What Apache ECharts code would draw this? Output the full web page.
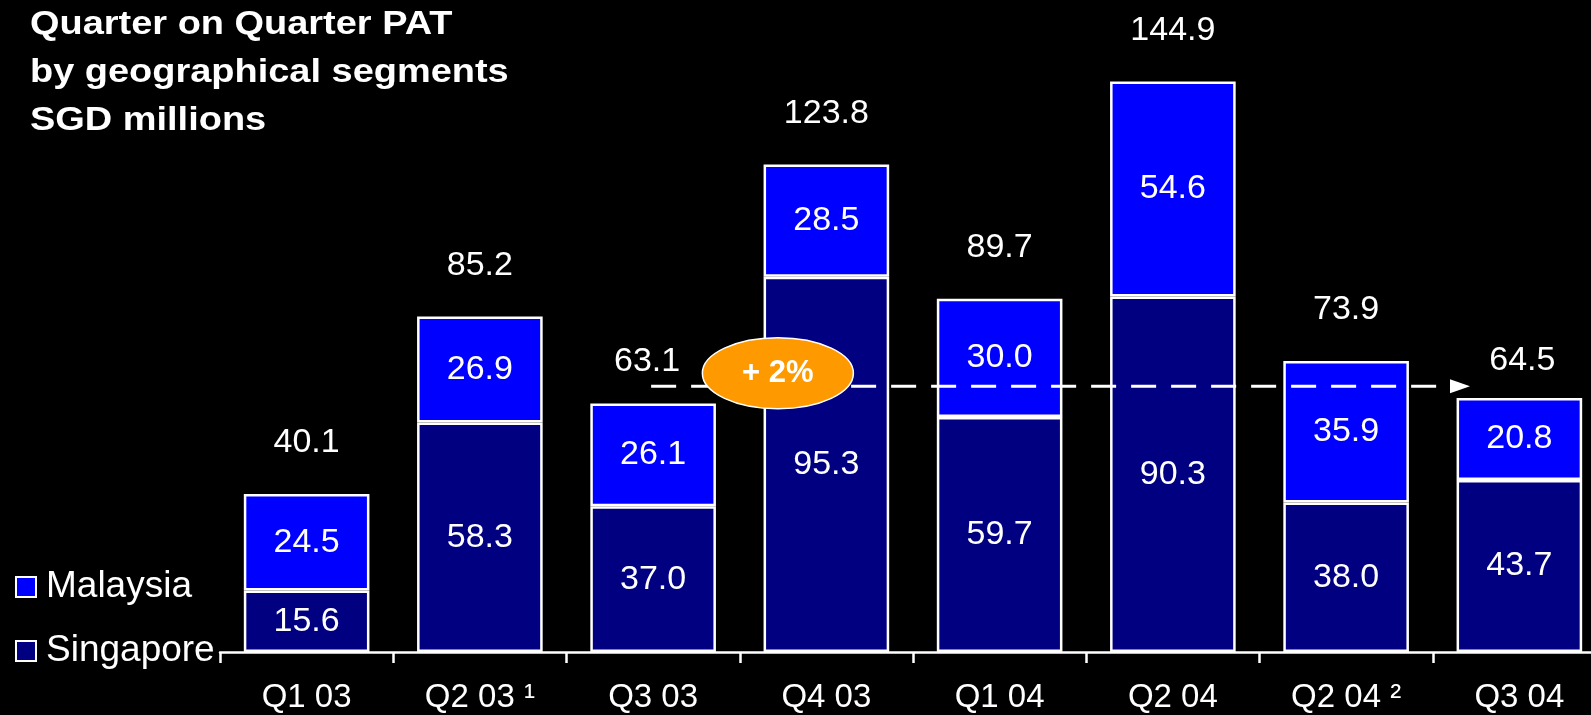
<!DOCTYPE html>
<html>
<head>
<meta charset="utf-8">
<script src="https://cdn.jsdelivr.net/npm/echarts@6/dist/echarts.min.js"></script>
<style>
html,body{margin:0;padding:0;background:#000;}
#main{width:1591px;height:715px;}
</style>
</head>
<body>
<div id="main"></div>
<script>
var titleText = 'Quarter on Quarter PAT\nby geographical segments\nSGD millions';
var categories = ['Q1 03', 'Q2 03 \u00b9', 'Q3 03', 'Q4 03', 'Q1 04', 'Q2 04', 'Q2 04 \u00b2', 'Q3 04'];
var singapore = [15.6, 58.3, 37.0, 95.3, 59.7, 90.3, 38.0, 43.7];
var malaysia = [24.5, 26.9, 26.1, 28.5, 30.0, 54.6, 35.9, 20.8];
var totals = [40.1, 85.2, 63.1, 123.8, 89.7, 144.9, 73.9, 64.5];
var growthLabel = '+ 2%';
var compareFrom = 2, compareTo = 7, compareLevel = 67.5;

var FONT = '"Liberation Sans", Arial, Helvetica, sans-serif';
var chart = echarts.init(document.getElementById('main'));

var segLabel = {show: true, position: 'inside', color: '#fff', fontSize: 34, fontFamily: FONT,
  formatter: function(p){ return p.value.toFixed(1); }};

// totals of the two compared quarters sit a little lower, under the arrow
var totalItems = totals.map(function(v, i){
  if (i === compareFrom) return {value: v, label: {distance: 25, offset: [-6, 0]}};
  if (i === compareTo) return {value: v, label: {distance: 20, offset: [3, 0]}};
  return v;
});

chart.setOption({
  backgroundColor: '#000',
  animation: false,
  legend: {
    data: ['Malaysia', 'Singapore'],
    orient: 'vertical', left: 10, top: 563,
    icon: 'rect', itemWidth: 20, itemHeight: 20, itemGap: 26,
    selectedMode: false,
    itemStyle: {borderColor: '#fff', borderWidth: 2},
    textStyle: {color: '#fff', fontSize: 37, fontFamily: FONT, lineHeight: 38, padding: [0,0,0,5]}
  },
  grid: {left: 220, top: 22, width: 1386, height: 630, outerBoundsMode: 'none', containLabel: false},
  xAxis: {
    type: 'category', data: categories,
    axisLine: {lineStyle: {color: '#fff', width: 2.5}},
    axisTick: {show: true, length: 11, lineStyle: {color: '#fff', width: 2.5}},
    axisLabel: {color: '#fff', fontSize: 33, fontFamily: FONT, margin: 29}
  },
  yAxis: {type: 'value', min: 0, max: 160, show: false, splitLine: {show: false}},
  series: [
    {name: 'Singapore', type: 'bar', stack: 'pat', data: singapore,
     barCategoryGap: '27.5%', barGap: '-100%',
     itemStyle: {color: '#000080', borderColor: '#fff', borderWidth: 2.5},
     label: segLabel},
    {name: 'Malaysia', type: 'bar', stack: 'pat', data: malaysia,
     itemStyle: {color: '#0000ff', borderColor: '#fff', borderWidth: 2.5},
     label: segLabel},
    {name: 'Total', type: 'bar', data: totalItems, silent: true, z: 1,
     itemStyle: {color: 'rgba(0,0,0,0)'},
     label: {show: true, position: 'top', distance: 34, color: '#fff', fontSize: 34, fontFamily: FONT,
       formatter: function(p){ return p.value.toFixed(1); }}}
  ]
});

// annotation: dashed comparison arrow with growth bubble
var a = chart.convertToPixel({xAxisIndex: 0, yAxisIndex: 0}, [compareFrom, compareLevel]);
var b = chart.convertToPixel({xAxisIndex: 0, yAxisIndex: 0}, [compareTo, compareLevel]);
var c0 = chart.convertToPixel({xAxisIndex: 0, yAxisIndex: 0}, [0, 0]);
var c1 = chart.convertToPixel({xAxisIndex: 0, yAxisIndex: 0}, [1, 0]);
var catW = c1[0] - c0[0];
var sx = a[0] - 5, y = a[1];
var tipX = b[0] - 0.285 * catW;
var bubble = chart.convertToPixel({xAxisIndex: 0, yAxisIndex: 0}, [compareFrom, 70.8]);
var bx = bubble[0] + 0.72 * catW, by = bubble[1];

chart.setOption({
  graphic: [
    {type: 'text', z: 100, x: 30, y: 1, scaleX: 1.15, originX: 0, originY: 0,
     style: {text: titleText, fill: '#fff', fontSize: 33, fontWeight: 'bold', fontFamily: FONT,
       lineHeight: 48, verticalAlign: 'top', align: 'left'}},
    {type: 'polyline', z: 100, shape: {points: [[sx, y + 10], [sx, y], [tipX - 18, y]]},
     style: {stroke: '#fff', lineWidth: 3, fill: null, lineDash: [25, 15], lineDashOffset: -13}},
    {type: 'polygon', z: 100, shape: {points: [[tipX - 20, y - 7], [tipX, y], [tipX - 20, y + 7]]},
     style: {fill: '#fff'}},
    {type: 'ellipse', z: 101, shape: {cx: bx, cy: by, rx: 75.5, ry: 35.5},
     style: {fill: '#ff9900', stroke: '#fff', lineWidth: 1.5}},
    {type: 'text', z: 102, x: bx, y: by,
     style: {text: growthLabel, fill: '#fff', fontSize: 31, fontWeight: 'bold', fontFamily: FONT,
       align: 'center', verticalAlign: 'middle'}}
  ]
});
</script>
</body>
</html>
